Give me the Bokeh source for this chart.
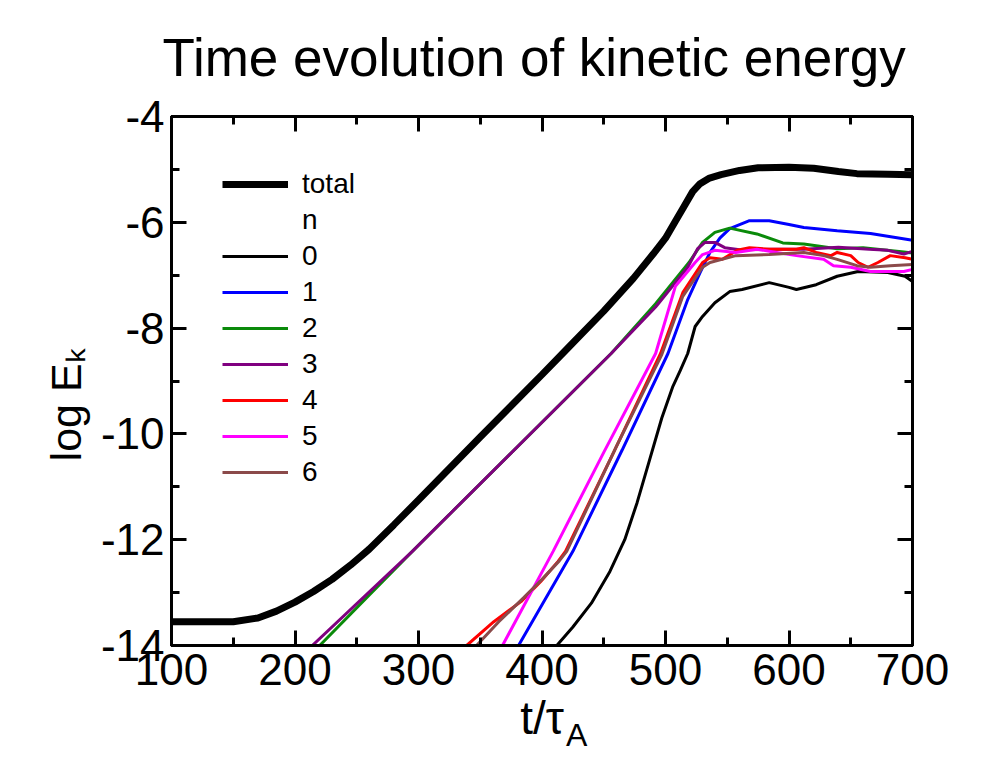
from bokeh.plotting import figure
from bokeh.models import (Range1d, LinearAxis, SingleIntervalTicker, FixedTicker, Legend,
                          LegendItem, CustomJSTickFormatter)
from bokeh.embed import file_html
from bokeh.resources import INLINE

FONT = "Liberation Sans"

# ---------------- texts ----------------
title_text = "Time evolution of kinetic energy"
x_label_main = "t/τ"
x_label_sub = "A"
y_label = "log E\u2096\u00a0\u00a0\u00a0\u00a0"

x_ticks = [100, 200, 300, 400, 500, 600, 700]
y_ticks = [-4, -6, -8, -10, -12, -14]
y_tick_labels = ["-4", "-6", "-8", "-10", "-12", "-14"]

legend_labels = ["total", "n", "0", "1", "2", "3", "4", "5", "6"]

# ---------------- data ----------------
total_t = [100, 150, 170, 185, 200, 215, 230, 245, 260, 280, 300, 350, 400, 420, 450, 474,
           490, 500, 508, 515, 522, 528, 535, 545, 560, 575, 600, 620, 640, 655, 680, 700]
total_e = [-13.55, -13.55, -13.48, -13.35, -13.18, -12.98, -12.75, -12.48, -12.18, -11.72,
           -11.25, -10.06, -8.88, -8.40, -7.68, -7.06, -6.60, -6.30, -5.98, -5.70, -5.42,
           -5.27, -5.17, -5.10, -5.02, -4.97, -4.96, -4.98, -5.04, -5.08, -5.09, -5.10]

n0_t = [412, 425, 440, 455, 467, 477, 487, 497, 506, 512, 518, 524, 530, 540, 552, 562,
        584, 600, 606, 622, 639, 656, 680, 694, 700]
n0_e = [-14.0, -13.65, -13.2, -12.6, -12.0, -11.3, -10.5, -9.7, -9.1, -8.8, -8.48, -7.97,
        -7.78, -7.52, -7.31, -7.27, -7.14, -7.23, -7.27, -7.18, -7.02, -6.93, -6.95, -7.02,
        -7.12]

n1_t = [381, 425, 465, 502, 518, 528, 536, 544, 552, 568, 584, 600, 612, 639, 666, 700]
n1_e = [-14.0, -12.22, -10.3, -8.48, -7.46, -6.95, -6.57, -6.30, -6.12, -5.97, -5.97,
        -6.04, -6.10, -6.16, -6.21, -6.34]

n2_t = [220, 260, 295, 456, 492, 519, 530, 540, 552, 574, 595, 612, 639, 660, 693, 700]
n2_e = [-14.0, -13.05, -12.22, -8.48, -7.54, -6.76, -6.38, -6.19, -6.11, -6.22, -6.39,
        -6.41, -6.50, -6.48, -6.56, -6.58]

n3_t = [214, 295, 456, 492, 518, 526, 532, 540, 548, 560, 585, 612, 640, 665, 680, 693, 700]
n3_e = [-14.0, -12.22, -8.48, -7.60, -6.85, -6.50, -6.38, -6.38, -6.48, -6.52, -6.51,
        -6.51, -6.47, -6.51, -6.53, -6.60, -6.55]

n4_t = [339, 361, 383, 399, 413, 419, 458, 496, 514, 530, 536, 546, 558, 568, 584, 606,
        612, 622, 634, 639, 650, 656, 664, 672, 682, 694, 700]
n4_e = [-14.0, -13.55, -13.17, -12.79, -12.41, -12.22, -10.35, -8.48, -7.33, -6.76, -6.67,
        -6.70, -6.53, -6.48, -6.51, -6.51, -6.48, -6.57, -6.63, -6.57, -6.63, -6.76, -6.85,
        -6.76, -6.63, -6.67, -6.70]

n5_t = [368, 409, 450, 492, 508, 524, 530, 540, 557, 574, 590, 606, 628, 636, 650, 666,
        693, 700]
n5_e = [-14.0, -12.22, -10.35, -8.48, -7.21, -6.76, -6.61, -6.53, -6.57, -6.51, -6.57,
        -6.63, -6.70, -6.82, -6.85, -6.93, -6.93, -6.89]

n6_t = [347, 365, 385, 400, 414, 420, 460, 497, 514, 530, 536, 557, 584, 612, 628, 639,
        655, 666, 682, 700]
n6_e = [-14.0, -13.55, -13.10, -12.75, -12.40, -12.22, -10.25, -8.50, -7.40, -6.85, -6.76,
        -6.63, -6.61, -6.57, -6.63, -6.70, -6.82, -6.85, -6.82, -6.80]

series_t = [n0_t, n1_t, n2_t, n3_t, n4_t, n5_t, n6_t]
series_e = [n0_e, n1_e, n2_e, n3_e, n4_e, n5_e, n6_e]
series_colors = ["#000000", "#0000ff", "#0a8a0a", "#800080", "#ff0000", "#ff00ff", "#8b4a4a"]

# ---------------- figure ----------------
FW, FH = 741, 529
p = figure(frame_width=FW, frame_height=FH,
           x_range=Range1d(100, 700), y_range=Range1d(-14, -4),
           output_backend="svg", toolbar_location=None,
           min_border_left=171, min_border_top=115, min_border_right=65, min_border_bottom=100,
           title=title_text)
p.background_fill_color = "white"
p.border_fill_color = "white"
p.outline_line_color = "black"
p.outline_line_width = 3
p.xgrid.visible = False
p.ygrid.visible = False

p.title.text_font = FONT
p.title.text_font_size = "53px"
p.title.text_font_style = "normal"
p.title.text_color = "black"
p.title.align = "left"
p.title.offset = -9
p.title.standoff = 55
p.title.vertical_align = "top"

y_over = {float(v): s for v, s in zip(y_ticks, y_tick_labels)}


def style_axis(ax, show_labels, is_x):
    ax.ticker = SingleIntervalTicker(interval=100 if is_x else 2, num_minor_ticks=2)
    ax.axis_line_color = "black"
    ax.axis_line_width = 3
    ax.major_tick_line_color = "black"
    ax.major_tick_line_width = 3
    ax.minor_tick_line_color = "black"
    ax.minor_tick_line_width = 3
    ax.major_tick_in = 15
    ax.major_tick_out = 0
    ax.minor_tick_in = 8
    ax.minor_tick_out = 0
    ax.major_label_text_font = FONT
    ax.major_label_text_font_size = "44px"
    ax.major_label_text_color = "black"
    ax.axis_label_text_font = FONT
    ax.axis_label_text_font_style = "normal"
    ax.axis_label_text_color = "black"
    if not show_labels:
        ax.formatter = CustomJSTickFormatter(code="return ''")
        ax.major_label_text_font_size = "1px"
        ax.major_label_standoff = 0


xa = p.xaxis[0]
style_axis(xa, True, True)
xa.major_label_standoff = 8
xa.axis_label = x_label_main
xa.axis_label_text_font_size = "46px"
xa.axis_label_standoff = 4

ya = p.yaxis[0]
style_axis(ya, True, False)
ya.major_label_standoff = 7
ya.major_label_overrides = y_over
ya.axis_label = y_label
ya.axis_label_text_font_size = "43px"
ya.axis_label_standoff = 8

right_ax = LinearAxis()
style_axis(right_ax, False, False)
p.add_layout(right_ax, "right")
top_ax = LinearAxis()
style_axis(top_ax, False, True)
p.add_layout(top_ax, "above")

# subscript "A" of the x label, drawn as the single tick label of a bare axis
sub_pos = 428
sub_ax = LinearAxis(ticker=FixedTicker(ticks=[sub_pos]))
sub_ax.major_label_overrides = {sub_pos: x_label_sub}
sub_ax.major_label_text_font = FONT
sub_ax.major_label_text_font_size = "32px"
sub_ax.major_label_text_color = "black"
sub_ax.axis_line_color = None
sub_ax.major_tick_line_color = None
sub_ax.minor_tick_line_color = None
sub_ax.major_tick_in = 0
sub_ax.major_tick_out = 0
sub_ax.major_label_standoff = -30
p.add_layout(sub_ax, "below")

# ---------------- lines ----------------
renderers = []
for t, e, c in zip(series_t, series_e, series_colors):
    renderers.append(p.line(t, e, line_color=c, line_width=3))
r_total = p.line(total_t, total_e, line_color="black", line_width=7)
r_blank = p.line([], [], line_alpha=0)

items = [LegendItem(label=legend_labels[0], renderers=[r_total]),
         LegendItem(label=legend_labels[1], renderers=[r_blank])]
for lab, r in zip(legend_labels[2:], renderers):
    items.append(LegendItem(label=lab, renderers=[r]))

legend = Legend(items=items, location=(51, 155), padding=0, margin=0, spacing=0,
                glyph_width=66, glyph_height=20, label_height=36, label_standoff=14,
                label_text_font=FONT, label_text_font_size="28px", label_text_color="black",
                border_line_alpha=0, background_fill_alpha=0)
p.add_layout(legend, "center")

open("out.html", "w").write(file_html(p, INLINE))
